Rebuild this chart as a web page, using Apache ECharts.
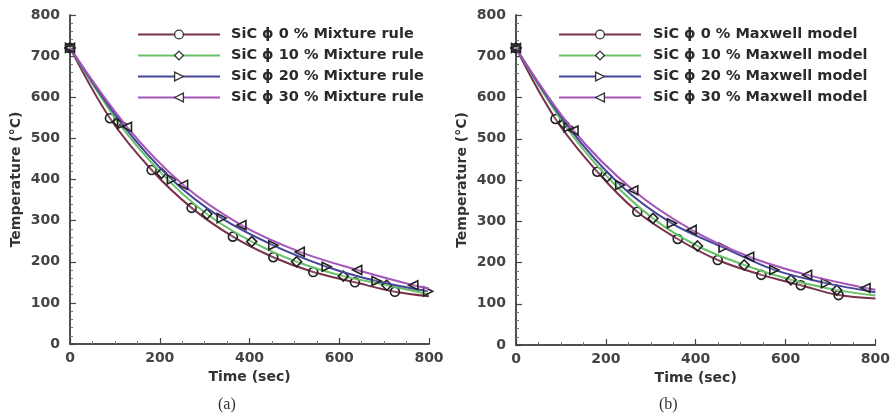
<!DOCTYPE html>
<html>
<head>
<meta charset="utf-8">
<script src="https://cdn.jsdelivr.net/npm/echarts@6/dist/echarts.min.js"></script>
<style>
  html, body { margin: 0; padding: 0; background: #fff; }
  #chart { width: 893px; height: 417px; }
</style>
</head>
<body>
<div id="chart"></div>
<script>
// Cooling curves, [time (sec), temperature (°C)]
// Points at t = 800 only close the curve and carry no marker.
// (a) thermal conductivity from the mixture rule
const mix0  = [[0,720],[89,549],[182,423],[271,331],[363,261],[453,211],[542,175],[635,150],[724,127],[800,116]];
const mix10 = [[0,720],[107,540],[204,415],[305,316],[405,249],[505,200],[609,165],[706,143],[800,121]];
const mix20 = [[0,720],[116,535],[227,400],[338,306],[453,240],[572,188],[683,153],[798,128]];
const mix30 = [[0,720],[127,528],[252,387],[382,289],[512,224],[640,180],[765,143],[800,135]];
// (b) thermal conductivity from the Maxwell model
const max0  = [[0,720],[88,548],[181,420],[270,323],[360,257],[449,206],[546,170],[634,145],[718,121],[800,113]];
const max10 = [[0,720],[106,537],[203,408],[305,307],[404,240],[508,194],[612,158],[714,133],[800,120]];
const max20 = [[0,720],[117,528],[232,388],[347,295],[462,236],[575,182],[690,150],[800,128]];
const max30 = [[0,720],[128,520],[261,375],[391,279],[519,214],[648,170],[778,138],[800,134]];

const fractions = ['0', '10', '20', '30'];
const lineColors = ['#7a3048', '#66c266', '#45459a', '#a455b8'];
const markers = ['circle', 'diamond', 'triangle', 'triangle'];
const markerRotate = [0, 0, -90, 90];
const mixNames = fractions.map(f => 'SiC \u03d5 ' + f + ' % Mixture rule');
const maxNames = fractions.map(f => 'SiC \u03d5 ' + f + ' % Maxwell model');

const FONT = '"DejaVu Sans", sans-serif';
const axisLine = { show: true, lineStyle: { color: '#444', width: 1.5 } };

function xAxis(gi) {
  return {
    type: 'value', gridIndex: gi, min: 0, max: 800, interval: 200,
    name: 'Time (sec)', nameLocation: 'middle', nameGap: 24,
    nameTextStyle: { fontFamily: FONT, fontWeight: 'bold', fontSize: 14, color: '#333' },
    axisLine: axisLine,
    axisTick: { inside: true, length: 6, lineStyle: { color: '#444', width: 1.2 } },
    minorTick: { show: true, splitNumber: 4, length: 3, lineStyle: { color: '#777' } },
    axisLabel: { margin: 7, fontFamily: FONT, fontWeight: 'bold', fontSize: 14, color: '#444' },
    splitLine: { show: false }
  };
}
function xTop(gi) {
  return { type: 'value', gridIndex: gi, position: 'top', min: 0, max: 800,
    axisLine: axisLine, axisTick: { show: false }, axisLabel: { show: false }, splitLine: { show: false } };
}
function yAxis(gi) {
  return {
    type: 'value', gridIndex: gi, min: 0, max: 800, interval: 100,
    name: 'Temperature (\u00b0C)', nameLocation: 'middle', nameGap: 47,
    nameTextStyle: { fontFamily: FONT, fontWeight: 'bold', fontSize: 14, color: '#333' },
    axisLine: axisLine,
    axisTick: { inside: true, length: 6, lineStyle: { color: '#444', width: 1.2 } },
    minorTick: { show: true, splitNumber: 5, length: 3, lineStyle: { color: '#777' } },
    axisLabel: { margin: 10, fontFamily: FONT, fontWeight: 'bold', fontSize: 14, color: '#444' },
    splitLine: { show: false }
  };
}
function yRight(gi) {
  return { type: 'value', gridIndex: gi, position: 'right', min: 0, max: 800,
    axisLine: axisLine, axisTick: { show: false }, axisLabel: { show: false }, splitLine: { show: false } };
}

function curve(name, data, i, axisOffset) {
  return {
    type: 'line', name: name,
    data: data.map(p => p[0] === 800 ? { value: p, symbol: 'none' } : p),
    xAxisIndex: axisOffset, yAxisIndex: axisOffset,
    smooth: 0.35,
    symbol: markers[i], symbolRotate: markerRotate[i], symbolSize: i === 1 ? 10 : 9,
    showAllSymbol: true,
    lineStyle: { color: lineColors[i], width: 2 },
    itemStyle: { color: 'rgba(255,255,255,0.15)', borderColor: '#222', borderWidth: 1.6 },
    emphasis: { disabled: true },
    z: 2 + i
  };
}

function legend(names, left, pad) {
  return {
    data: names.map(n => ({
      name: n,
      itemStyle: { color: '#fff', borderColor: '#333', borderWidth: 1.3 }
    })),
    orient: 'vertical', left: left, top: 22,
    itemWidth: 82, itemHeight: 11, itemGap: 6,
    textStyle: { fontFamily: FONT, fontWeight: 'bold', fontSize: 14.5, lineHeight: 15, color: '#2a2a2a', padding: [0, 0, 0, pad] },
    selectedMode: false
  };
}

const series = [];
[mix0, mix10, mix20, mix30].forEach((d, i) => series.push(curve(mixNames[i], d, i, 0)));
[max0, max10, max20, max30].forEach((d, i) => series.push(curve(maxNames[i], d, i, 2)));

const chart = echarts.init(document.getElementById('chart'), null, { renderer: 'canvas' });
chart.setOption({
  backgroundColor: '#fff',
  animation: false,
  grid: [
    { left: 70, top: 15, width: 359, height: 329 },
    { left: 516, top: 15, width: 362, height: 330 }
  ],
  xAxis: [xAxis(0), xTop(0), xAxis(1), xTop(1)],
  yAxis: [yAxis(0), yRight(0), yAxis(1), yRight(1)],
  legend: [legend(mixNames, 132, 6), legend(maxNames, 553, 7)],
  series: series,
  graphic: [
    { type: 'text', left: 218, top: 397, style: { text: '(a)', font: '16px "Liberation Serif", serif', fill: '#333' } },
    { type: 'text', left: 659, top: 397, style: { text: '(b)', font: '16px "Liberation Serif", serif', fill: '#333' } }
  ]
});
</script>
</body>
</html>
